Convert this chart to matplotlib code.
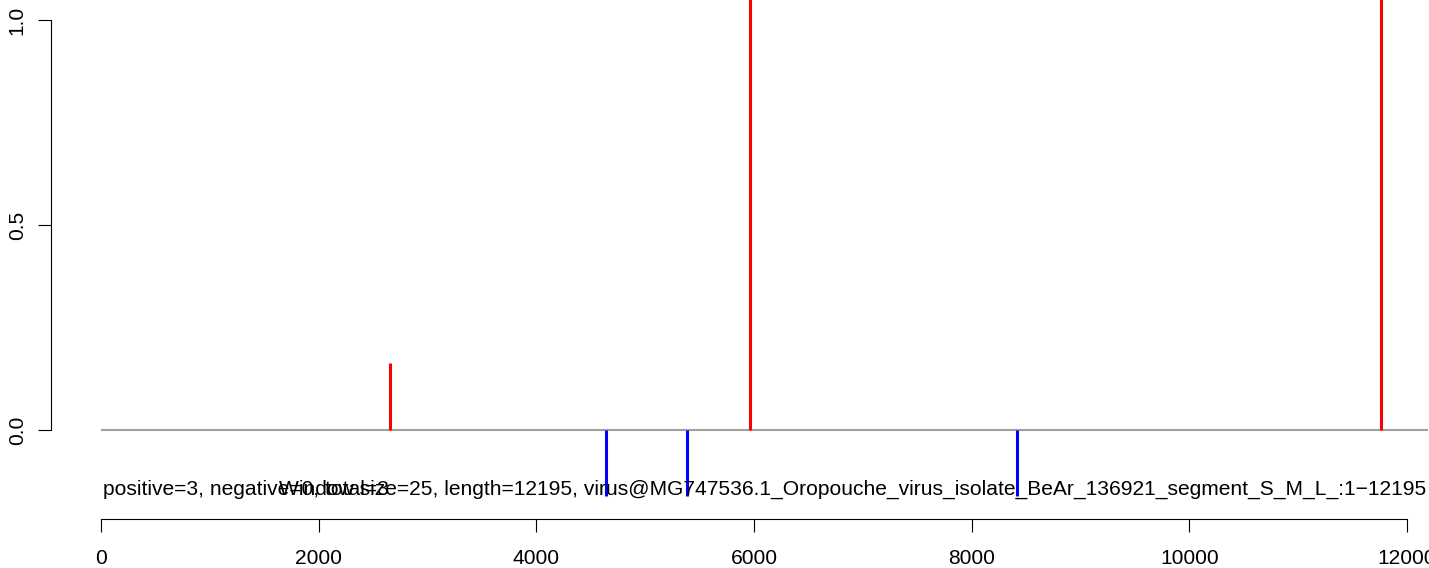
import matplotlib
matplotlib.use('Agg')
import matplotlib.pyplot as plt

plt.rcParams['font.family'] = ['Liberation Sans', 'DejaVu Sans']

# Data
seq_length = 12195
pos_sites = [2658, 5966, 11764]
pos_scores = [0.163, 1.1, 1.1]
neg_sites = [4640, 5387, 8420]
neg_scores = [-0.161, -0.161, -0.161]
x_ticks = [0, 2000, 4000, 6000, 8000, 10000, 12000]
y_ticks = [0.0, 0.5, 1.0]
y_ticklabels = ['0.0', '0.5', '1.0']
info_text = 'positive=3, negative=0, total=3'
sub_text = ('Window size=25, length=12195, '
            'virus@MG747536.1_Oropouche_virus_isolate_BeAr_136921_segment_S_M_L_:1\u221212195')

W, H = 1429, 568
fs = 15.1
fig = plt.figure(figsize=(W / 100, H / 100), dpi=100)
ax = fig.add_axes([0, 0, 1, 1])

# pixel mapping (R-style plot region)
px_per_x = 1306 / 12000
px_per_y = 410
x0_px, y0_px = 101, 430
ax.set_xlim(-x0_px / px_per_x, (W - x0_px) / px_per_x)
ax.set_ylim(-(H - y0_px) / px_per_y, 1 + (y0_px - 410) / px_per_y)

ax.hlines(0, 0, seq_length, color='#a0a0a0', linewidth=1.5, zorder=1)
ax.vlines(pos_sites, 0, pos_scores, color='#ff0000', linewidth=2.2, zorder=2)
ax.vlines(neg_sites, 0, neg_scores, color='#0000ff', linewidth=2.2, zorder=2)

for s in ['top', 'right']:
    ax.spines[s].set_visible(False)
ax.spines['left'].set_position(('data', (51 - x0_px) / px_per_x))
ax.spines['left'].set_bounds(0, 1)
ax.spines['bottom'].set_position(('data', -(519 - y0_px) / px_per_y))
ax.spines['bottom'].set_bounds(0, 12000)
for s in ['left', 'bottom']:
    ax.spines[s].set_linewidth(0.8)

ax.set_xticks(x_ticks)
ax.set_xticklabels([str(t) for t in x_ticks])
ax.set_yticks(y_ticks)
ax.set_yticklabels(y_ticklabels, rotation=90, va='center')
ax.tick_params(axis='both', direction='out', length=9.4, width=0.8, labelsize=fs)
ax.tick_params(axis='x', pad=12)
ax.tick_params(axis='y', pad=8)
ax.patch.set_alpha(0)

fig.text(103 / W, 1 - 495 / H, info_text, fontsize=fs, ha='left', va='baseline')
fig.text(279 / W, 1 - 495 / H, sub_text, fontsize=fs, ha='left', va='baseline')

fig.savefig('out.png', dpi=100, facecolor='white')
